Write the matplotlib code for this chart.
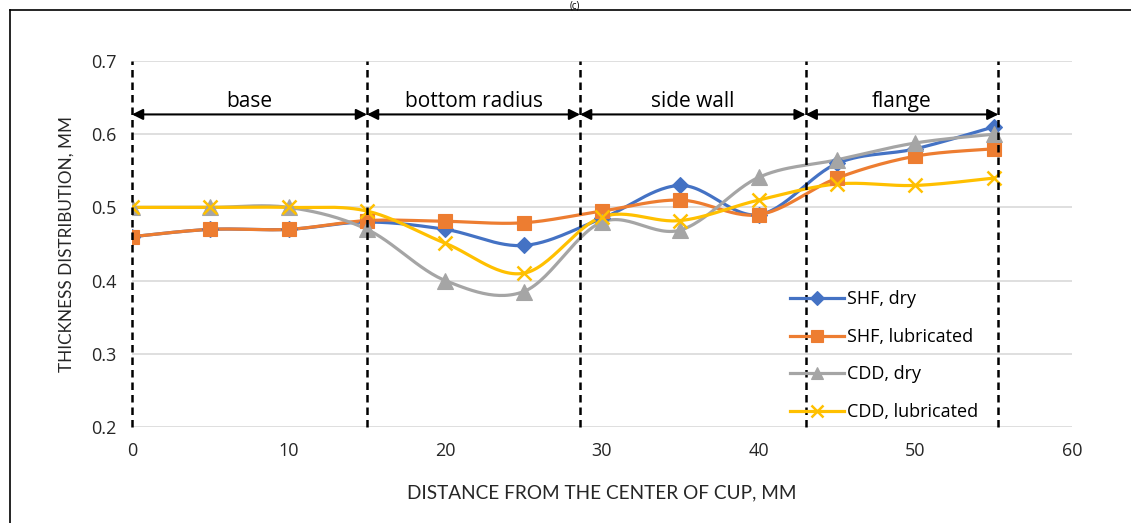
import numpy as np
import matplotlib
matplotlib.use('Agg')
import matplotlib.pyplot as plt
from matplotlib.lines import Line2D

plt.rcParams['font.family'] = ['Open Sans', 'DejaVu Sans']

# 数据
distance = [0, 5, 10, 15, 20, 25, 30, 35, 40, 45, 50, 55]
shf_dry = [0.46, 0.47, 0.47, 0.48, 0.47, 0.448, 0.485, 0.53, 0.49, 0.56, 0.58, 0.61]
shf_lub = [0.46, 0.47, 0.47, 0.482, 0.481, 0.479, 0.495, 0.51, 0.49, 0.54, 0.57, 0.58]
cdd_dry = [0.50, 0.50, 0.50, 0.47, 0.40, 0.385, 0.48, 0.469, 0.541, 0.565, 0.588, 0.60]
cdd_lub = [0.50, 0.50, 0.50, 0.495, 0.451, 0.41, 0.487, 0.482, 0.51, 0.532, 0.53, 0.54]

regions = ['base', 'bottom radius', 'side wall', 'flange']
bounds = [0, 15, 28.6, 43.0, 55.3]


def smooth(x, y, n=30):
    # Excel 风格的平滑曲线 (Catmull-Rom / Bezier)
    x = np.asarray(x, float)
    y = np.asarray(y, float)
    px = np.concatenate([[x[0]], x, [x[-1]]])
    py = np.concatenate([[y[0]], y, [y[-1]]])
    xs, ys = [], []
    t = np.linspace(0, 1, n)
    for i in range(1, len(px) - 2):
        p0 = np.array([px[i], py[i]])
        p3 = np.array([px[i + 1], py[i + 1]])
        p1 = p0 + (np.array([px[i + 1], py[i + 1]]) - np.array([px[i - 1], py[i - 1]])) / 6
        p2 = p3 - (np.array([px[i + 2], py[i + 2]]) - p0) / 6
        b = ((1 - t) ** 3)[:, None] * p0 + (3 * (1 - t) ** 2 * t)[:, None] * p1 \
            + (3 * (1 - t) * t ** 2)[:, None] * p2 + (t ** 3)[:, None] * p3
        xs.extend(b[:, 0])
        ys.extend(b[:, 1])
    return xs, ys


fig = plt.figure(figsize=(11.31, 5.23), dpi=100)
ax = fig.add_axes([132 / 1131, 1 - 427 / 523, 940 / 1131, 366 / 523])

series = [
    (shf_dry, 'SHF, dry', '#4472C4', 'D', 8),
    (shf_lub, 'SHF, lubricated', '#ED7D31', 's', 10.5),
    (cdd_dry, 'CDD, dry', '#A5A5A5', '^', 11),
    (cdd_lub, 'CDD, lubricated', '#FFC000', 'x', 10),
]
handles = []
for vals, name, col, mk, ms in series:
    sx, sy = smooth(distance, vals)
    mew = 1.8 if mk == 'x' else 0.8
    ax.plot(sx, sy, color=col, lw=2.3, zorder=3)
    ax.plot(distance, vals, ls='none', marker=mk, ms=ms, color=col,
            mec=col, mew=mew, zorder=4)
    handles.append(Line2D([], [], color=col, lw=2.3, marker=mk, ms=ms * 0.85, mew=mew, label=name))

ax.set_xlim(0, 60)
ax.set_ylim(0.2, 0.7)
ax.set_xticks(range(0, 61, 10))
ax.set_yticks([0.2, 0.3, 0.4, 0.5, 0.6, 0.7])
ax.set_yticklabels(['0.2', '0.3', '0.4', '0.5', '0.6', '0.7'])
ax.grid(axis='y', color='#D9D9D9', lw=1.2, zorder=0)
ax.set_axisbelow(True)
for s in ax.spines.values():
    s.set_visible(False)
ax.tick_params(length=0, labelsize=13, colors='#262626', pad=11)

# 分区虚线
for b in bounds:
    ax.plot([b, b], [0.2, 0.7], color='black', ls=(0, (3, 2)), lw=1.8, zorder=5, clip_on=False)

# 分区箭头与标签
for i, name in enumerate(regions):
    ax.annotate('', xy=(bounds[i], 0.627), xytext=(bounds[i + 1], 0.627),
                arrowprops=dict(arrowstyle='<|-|>', color='black', lw=1.5,
                                mutation_scale=16, shrinkA=0, shrinkB=0), zorder=6)
    ax.text((bounds[i] + bounds[i + 1]) / 2, 0.637, name, ha='center', va='baseline',
            fontsize=15, color='black')

ax.set_xlabel('DISTANCE FROM THE CENTER OF CUP, MM', fontsize=13.7, color='#262626',
              labelpad=17, family=['Lato', 'DejaVu Sans'])
ax.set_ylabel('THICKNESS DISTRIBUTION, MM', fontsize=12.3, color='#262626',
              labelpad=12, family=['Lato', 'DejaVu Sans'])

ax.legend(handles=handles, loc='lower left', bbox_to_anchor=(0.683, -0.028), frameon=False,
          fontsize=13, labelspacing=1.08, handlelength=3.0, handletextpad=0.15)

# 外框
fig.add_artist(Line2D([10 / 1131, 10 / 1131], [0, 1 - 10 / 523], color='black', lw=1.2))
fig.add_artist(Line2D([10 / 1131, 1], [1 - 10 / 523, 1 - 10 / 523], color='black', lw=1.2))
fig.text(575 / 1131, 1.0, '(c)', ha='center', va='top', fontsize=7)

fig.savefig('out.png', dpi=100)
